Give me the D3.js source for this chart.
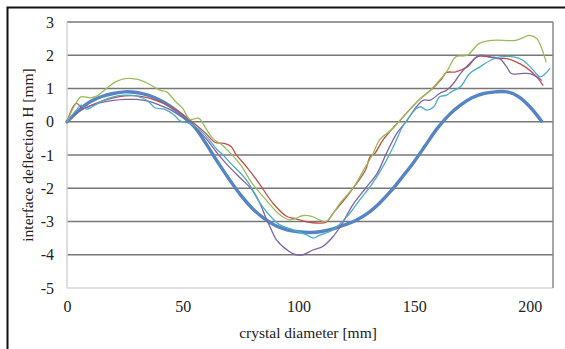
<!DOCTYPE html>
<html>
<head>
<meta charset="utf-8">
<script src="https://cdn.jsdelivr.net/npm/d3@7/dist/d3.min.js"></script>
<style>
  html, body { margin: 0; padding: 0; background: #fff; }
  svg { display: block; }
  text { font-family: "Liberation Serif", "Times New Roman", serif; fill: #222; }
</style>
</head>
<body>
<svg id="chart" width="565" height="349"></svg>
<script>
// Axis ticks
const xTicks = [0, 50, 100, 150, 200];
const yTicks = [-5, -4, -3, -2, -1, 0, 1, 2, 3];

// Calculated interface shape [diameter mm, deflection mm]
const calculated = [[0,0],[5,0.33],[10,0.6],[15,0.76],[20,0.85],[25,0.9],[30,0.88],[35,0.8],[40,0.65],[45,0.45],[50,0.18],[55,-0.15],[60,-0.65],[65,-1.2],[70,-1.72],[75,-2.2],[80,-2.6],[85,-2.9],[90,-3.12],[95,-3.25],[100,-3.31],[105,-3.33],[110,-3.3],[115,-3.22],[120,-3.1],[125,-2.96],[130,-2.75],[135,-2.45],[140,-2.08],[145,-1.65],[150,-1.2],[155,-0.7],[160,-0.2],[165,0.2],[170,0.5],[175,0.72],[180,0.85],[185,0.9],[190,0.9],[195,0.76],[200,0.45],[205,0.02]];

// Measured interface profiles
const measuredRed = [[0,0],[4,0.55],[7,0.4],[10,0.48],[15,0.62],[20,0.72],[25,0.78],[30,0.78],[35,0.72],[40,0.6],[45,0.45],[50,0.22],[55,-0.05],[60,-0.35],[64,-0.62],[68,-0.65],[71,-0.75],[73,-0.98],[77.5,-1.35],[83,-1.85],[89,-2.45],[95,-2.85],[99,-2.92],[103,-3.0],[109,-3.05],[112,-3.02],[115,-2.75],[122,-2.15],[129,-1.45],[131,-1.05],[133,-0.95],[136.5,-0.55],[144,0.05],[152,0.65],[158,1.0],[162,1.3],[164,1.48],[168,1.5],[173,1.65],[177,1.95],[180,1.97],[186,1.9],[190,1.9],[194,1.8],[198,1.65],[203,1.35],[205.6,1.1]];

const measuredGreen = [[0,0],[3,0.45],[6,0.75],[10,0.72],[13,0.78],[17,1.0],[21,1.2],[25,1.3],[30,1.28],[35,1.15],[40,0.95],[43,0.9],[47,0.6],[50,0.4],[53,0.08],[57,0.1],[60,-0.2],[63,-0.5],[67,-0.7],[70,-0.9],[75,-1.3],[80,-1.85],[86,-2.35],[92,-2.8],[96,-2.95],[99,-2.9],[102,-2.82],[106,-2.85],[109,-2.95],[112,-3.0],[118,-2.45],[124,-1.95],[129,-1.35],[132,-1.0],[135,-0.55],[140,-0.25],[144,0.05],[148,0.35],[152,0.65],[157,0.95],[161,1.25],[164,1.5],[168,1.95],[173,2.0],[178,2.35],[184,2.45],[194,2.45],[200,2.6],[203,2.5],[207,1.8]];

const measuredPurple = [[0,0],[5,0.3],[10,0.48],[15,0.58],[20,0.64],[25,0.67],[30,0.67],[35,0.62],[40,0.5],[45,0.35],[50,0.12],[55,-0.15],[60,-0.5],[65,-0.95],[70,-1.35],[75,-1.7],[80,-2.05],[83,-2.4],[86,-2.9],[88,-3.2],[90.5,-3.55],[96,-3.9],[99,-4.0],[102,-4.0],[106.5,-3.85],[110.5,-3.75],[115,-3.45],[119,-3.05],[123.5,-2.5],[129,-2.0],[134,-1.55],[138,-0.95],[142.5,-0.35],[147,0.05],[151,0.45],[154,0.65],[157,0.65],[161,0.85],[164,0.95],[167,1.15],[170,1.45],[174,1.75],[178.5,2.0],[183,1.95],[187,1.9],[190,1.65],[192,1.45],[196,1.45],[200,1.45],[203,1.35],[205,1.25]];

const measuredCyan = [[0,0],[4,0.35],[6,0.5],[8.5,0.38],[11,0.45],[15,0.62],[20,0.75],[25,0.8],[30,0.78],[35,0.62],[38,0.42],[42,0.38],[46,0.22],[49,0.02],[53,-0.05],[59,-0.35],[65,-0.85],[67.5,-1.0],[70,-1.2],[77.5,-1.75],[83,-2.4],[88,-2.85],[92,-3.1],[97.7,-3.25],[103.5,-3.4],[106.5,-3.5],[109,-3.42],[115,-3.25],[121,-2.85],[126.5,-2.35],[132,-1.85],[136.5,-1.35],[141,-0.75],[145,-0.15],[148,0.15],[151,0.4],[153,0.45],[155.5,0.35],[158.5,0.45],[161,0.75],[164,0.8],[166,0.9],[170,1.05],[174,1.45],[178.5,1.65],[183,1.85],[187,1.95],[193,1.95],[197,1.85],[201.5,1.55],[204.5,1.35],[208.6,1.6]];

const svg = d3.select("#chart");

// Outer chart frame (top and left edges visible)
svg.append("path")
  .attr("d", "M7.5,349 L7.5,7.5 L565,7.5")
  .attr("fill", "none").attr("stroke", "#111").attr("stroke-width", 2);

const x = d3.scaleLinear().domain([0, 210]).range([67, 553]);
const y = d3.scaleLinear().domain([-5, 3]).range([288, 22]);

// Horizontal gridlines
svg.append("g").selectAll("line")
  .data(yTicks.filter(v => v > -5))
  .join("line")
  .attr("x1", x(0)).attr("x2", x(210))
  .attr("y1", d => y(d)).attr("y2", d => y(d))
  .attr("stroke", "#777").attr("stroke-width", 1.7);

// Plot-area edges
svg.append("line")
  .attr("x1", x(0)).attr("x2", x(210)).attr("y1", y(-5)).attr("y2", y(-5))
  .attr("stroke", "#d4d4d4").attr("stroke-width", 1.5);
svg.append("line")
  .attr("x1", x(0)).attr("x2", x(0)).attr("y1", y(3)).attr("y2", y(-5))
  .attr("stroke", "#d4d4d4").attr("stroke-width", 1.5);
svg.append("line")
  .attr("x1", x(210)).attr("x2", x(210)).attr("y1", y(3)).attr("y2", y(-5))
  .attr("stroke", "#8a8a8a").attr("stroke-width", 1.5);

// Tick labels through d3 axes, with the axis lines hidden
const xAxis = svg.append("g")
  .attr("transform", `translate(0,${y(-5)})`)
  .call(d3.axisBottom(x).tickValues(xTicks).tickSize(0).tickPadding(13));
xAxis.select(".domain").remove();
xAxis.selectAll("text")
  .style("font-family", '"Liberation Serif", "Times New Roman", serif')
  .style("font-size", "16px").attr("fill", "#222");

const yAxis = svg.append("g")
  .attr("transform", `translate(${x(0)},0)`)
  .call(d3.axisLeft(y).tickValues(yTicks).tickSize(0).tickPadding(13));
yAxis.select(".domain").remove();
yAxis.selectAll("text")
  .style("font-family", '"Liberation Serif", "Times New Roman", serif')
  .style("font-size", "16px").attr("fill", "#222")
  .text(d => d);

// Axis titles
svg.append("text")
  .attr("x", 308).attr("y", 338)
  .attr("text-anchor", "middle")
  .style("font-size", "15.5px")
  .text("crystal diameter [mm]");

svg.append("text")
  .attr("transform", "translate(33,155) rotate(-90)")
  .attr("text-anchor", "middle")
  .style("font-size", "15.5px")
  .text("interface deflection H [mm]");

// Curves
const line = d3.line()
  .x(d => x(d[0])).y(d => y(d[1]))
  .curve(d3.curveCatmullRom.alpha(0.5));

const series = [
  { data: calculated, color: "#5585c4", width: 3.4 },
  { data: measuredRed, color: "#c0504d", width: 1.3 },
  { data: measuredGreen, color: "#9bbb59", width: 1.3 },
  { data: measuredPurple, color: "#8064a2", width: 1.3 },
  { data: measuredCyan, color: "#4bacc6", width: 1.3 }
];

svg.append("g").selectAll("path")
  .data(series)
  .join("path")
  .attr("d", d => line(d.data))
  .attr("fill", "none")
  .attr("stroke", d => d.color)
  .attr("stroke-width", d => d.width)
  .attr("stroke-linejoin", "round")
  .attr("stroke-linecap", "round");
</script>
</body>
</html>
